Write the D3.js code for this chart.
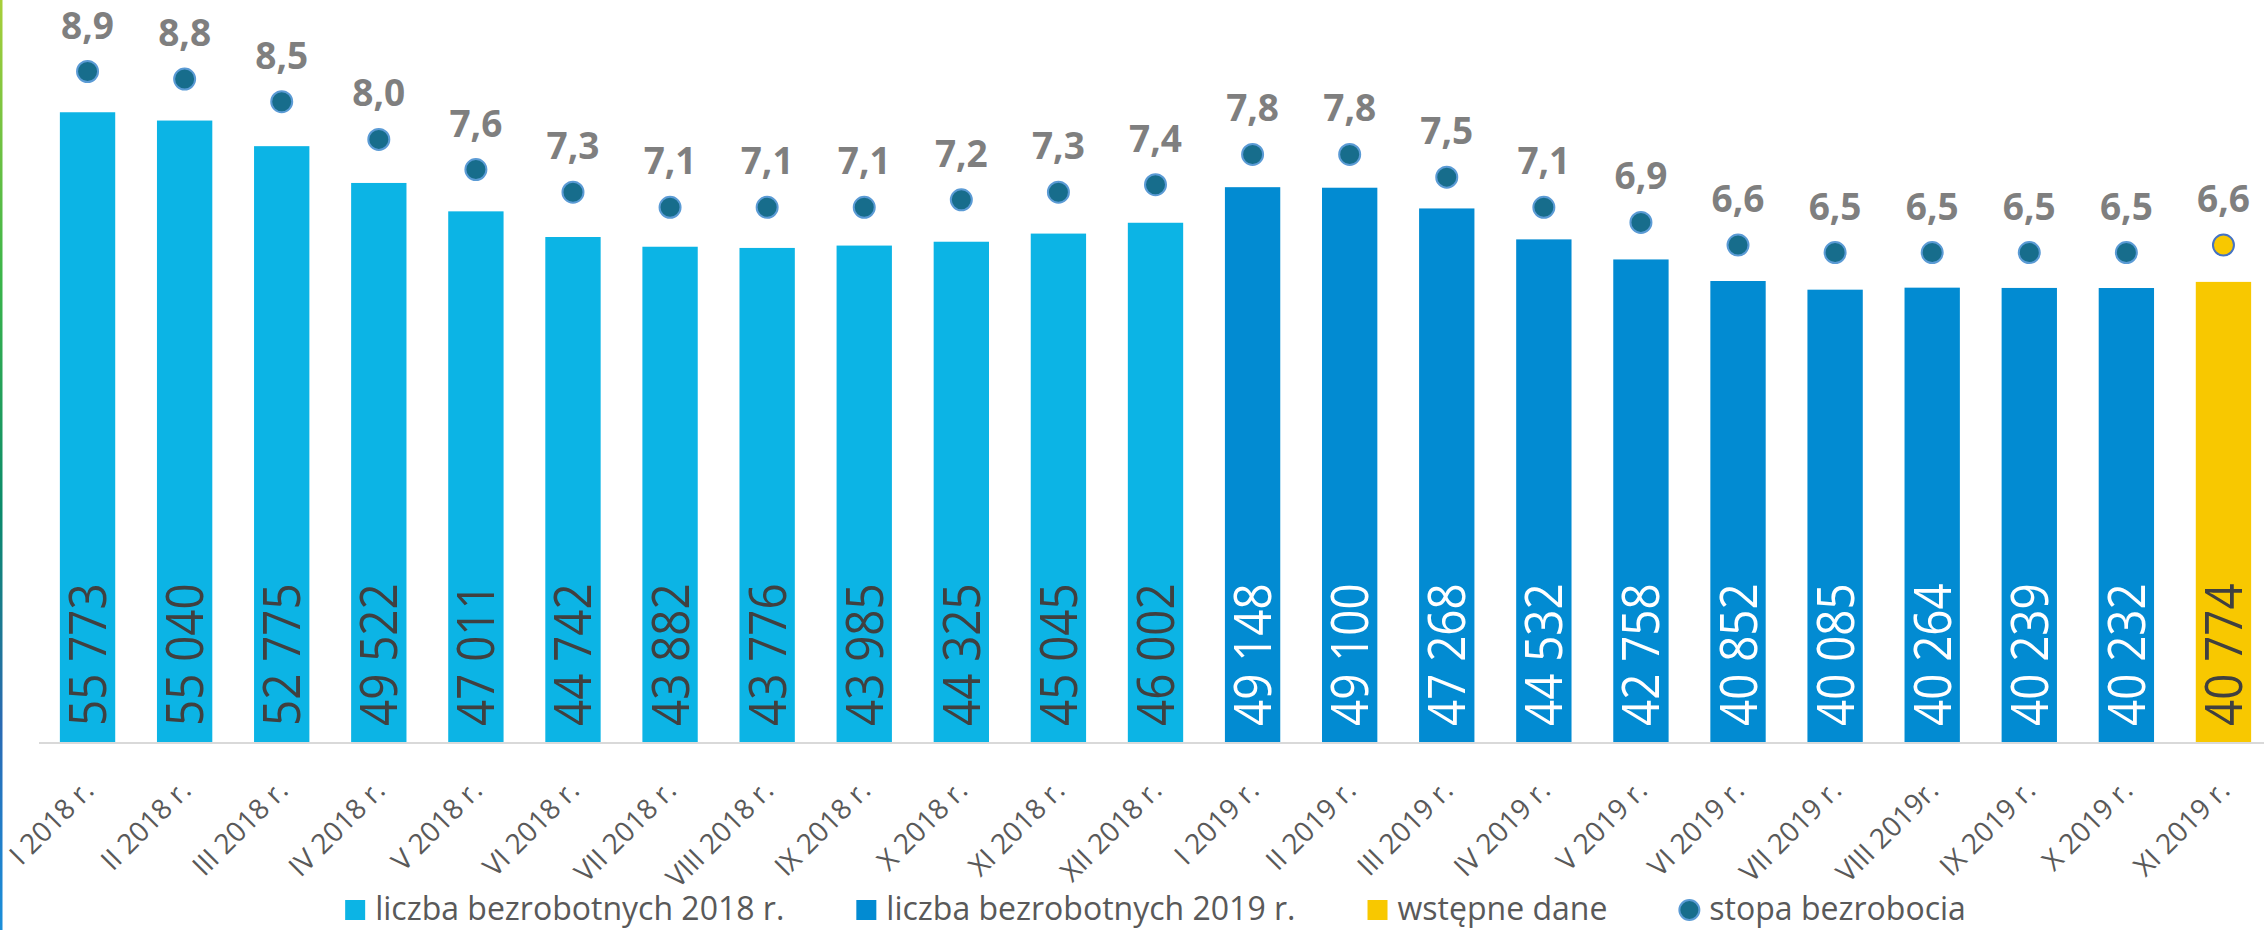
<!DOCTYPE html>
<html>
<head>
<meta charset="utf-8">
<script src="https://cdn.jsdelivr.net/npm/d3@7"></script>
<style>
  body { margin: 0; background: #fff; }
  svg { display: block; }
</style>
</head>
<body>
<div id="chart"></div>
<script>
// ---- data ----
var categories = ["I 2018 r.", "II 2018 r.", "III 2018 r.", "IV 2018 r.", "V 2018 r.", "VI 2018 r.",
  "VII 2018 r.", "VIII 2018 r.", "IX 2018 r.", "X 2018 r.", "XI 2018 r.", "XII 2018 r.",
  "I 2019 r.", "II 2019 r.", "III 2019 r.", "IV 2019 r.", "V 2019 r.", "VI 2019 r.",
  "VII 2019 r.", "VIII 2019r.", "IX 2019 r.", "X 2019 r.", "XI 2019 r."];
var unemployed = [55773, 55040, 52775, 49522, 47011, 44742, 43882, 43776, 43985, 44325, 45045, 46002,
  49148, 49100, 47268, 44532, 42758, 40852, 40085, 40264, 40239, 40232, 40774];
var rate = [8.9, 8.8, 8.5, 8.0, 7.6, 7.3, 7.1, 7.1, 7.1, 7.2, 7.3, 7.4,
  7.8, 7.8, 7.5, 7.1, 6.9, 6.6, 6.5, 6.5, 6.5, 6.5, 6.6];
var seriesOf = ["y2018", "y2018", "y2018", "y2018", "y2018", "y2018", "y2018", "y2018", "y2018", "y2018", "y2018", "y2018",
  "y2019", "y2019", "y2019", "y2019", "y2019", "y2019", "y2019", "y2019", "y2019", "y2019", "prelim"];
var legendKeys = ["y2018", "y2019", "prelim", "rate"];
var legendLabels = ["liczba bezrobotnych 2018 r.", "liczba bezrobotnych 2019 r.", "wstępne dane", "stopa bezrobocia"];

var attrs = {
  svgWidth: 2264,
  svgHeight: 930,
  plotLeft: 39,
  plotRight: 2272,
  baseline: 743,
  font: "'Open Sans', 'Noto Sans', sans-serif"
};

var colors = {
  y2018: "#0cb4e5",
  y2019: "#028bd2",
  prelim: "#f8c800",
  rate: "#176d8c",
  rateStroke: "#5b9bd5",
  prelimDotStroke: "#4472c4",
  darkText: "#404040",
  rateText: "#7f7f7f",
  axisText: "#595959",
  axis: "#d9d9d9"
};

var svg = d3.select("#chart").append("svg")
  .attr("width", attrs.svgWidth)
  .attr("height", attrs.svgHeight)
  .attr("font-family", attrs.font);

// left gradient edge
var grad = svg.append("defs").append("linearGradient")
  .attr("id", "edge").attr("x1", 0).attr("y1", 0).attr("x2", 0).attr("y2", 1);
[["0%", "#a8cf3a"], ["30%", "#3bb54a"], ["55%", "#0b8a6b"], ["78%", "#2a6ab3"], ["100%", "#1a8fda"]]
  .forEach(function (s) { grad.append("stop").attr("offset", s[0]).attr("stop-color", s[1]); });
svg.append("rect").attr("x", 0).attr("y", 0).attr("width", 2.5).attr("height", attrs.svgHeight)
  .attr("fill", "url(#edge)");

// scales
var x = d3.scaleBand()
  .domain(categories)
  .range([attrs.plotLeft, attrs.plotRight])
  .paddingInner(0.43)
  .paddingOuter(0.215);

var y = d3.scaleLinear()
  .domain([0, 60000])
  .range([attrs.baseline, attrs.baseline - 60000 * 0.011309]);

var yRate = d3.scaleLinear()
  .domain([0, 10])
  .range([attrs.baseline, attrs.baseline - 754.5]);

var fmtNum = function (v) { return d3.format(",")(v).replace(/,/g, " "); };
var fmtRate = function (v) { return d3.format(".1f")(v).replace(".", ","); };

var data = categories.map(function (c, i) {
  return { cat: c, value: unemployed[i], rate: rate[i], series: seriesOf[i] };
});

// bars
svg.append("g").selectAll("rect")
  .data(data)
  .enter().append("rect")
  .attr("x", function (d) { return x(d.cat); })
  .attr("y", function (d) { return y(d.value); })
  .attr("width", x.bandwidth())
  .attr("height", function (d) { return y(0) - y(d.value); })
  .attr("fill", function (d) { return colors[d.series]; });

// axis line
svg.append("line")
  .attr("x1", attrs.plotLeft).attr("x2", attrs.plotRight)
  .attr("y1", attrs.baseline).attr("y2", attrs.baseline)
  .attr("stroke", colors.axis).attr("stroke-width", 2);

// bar value labels (vertical)
svg.append("g").selectAll("text")
  .data(data)
  .enter().append("text")
  .attr("transform", function (d) {
    var cx = x(d.cat) + x.bandwidth() / 2;
    return "translate(" + (cx + 18.5) + "," + (attrs.baseline - 17) + ") rotate(-90) scale(0.88,1)";
  })
  .attr("font-size", 52)
  .attr("fill", function (d) { return d.series === "y2019" ? "#fff" : colors.darkText; })
  .text(function (d) { return fmtNum(d.value); });

// category labels
svg.append("g").selectAll("text")
  .data(data)
  .enter().append("text")
  .attr("transform", function (d) {
    var cx = x(d.cat) + x.bandwidth() / 2;
    return "translate(" + (cx + 8) + "," + (attrs.baseline + 49) + ") rotate(-45)";
  })
  .attr("text-anchor", "end")
  .attr("font-size", 28)
  .attr("fill", colors.axisText)
  .text(function (d) { return d.cat; });

// rate dots
svg.append("g").selectAll("circle")
  .data(data)
  .enter().append("circle")
  .attr("cx", function (d) { return x(d.cat) + x.bandwidth() / 2; })
  .attr("cy", function (d) { return yRate(d.rate); })
  .attr("r", 10.5)
  .attr("fill", function (d) { return d.series === "prelim" ? colors.prelim : colors.rate; })
  .attr("stroke", function (d) { return d.series === "prelim" ? colors.prelimDotStroke : colors.rateStroke; })
  .attr("stroke-width", 2);

// rate labels
svg.append("g").selectAll("text")
  .data(data)
  .enter().append("text")
  .attr("x", function (d) { return x(d.cat) + x.bandwidth() / 2; })
  .attr("y", function (d) { return yRate(d.rate) - 33; })
  .attr("text-anchor", "middle")
  .attr("font-size", 37)
  .attr("font-weight", "bold")
  .attr("fill", colors.rateText)
  .text(function (d) { return fmtRate(d.rate); });

// legend
var legend = svg.append("g");
var items = legend.selectAll("g")
  .data(legendKeys)
  .enter().append("g");

items.each(function (k, i) {
  var g = d3.select(this);
  if (k === "rate") {
    g.append("circle").attr("cx", 10).attr("cy", -10).attr("r", 10)
      .attr("fill", colors.rate).attr("stroke", colors.rateStroke).attr("stroke-width", 2);
  } else {
    g.append("rect").attr("x", 0).attr("y", -20).attr("width", 20).attr("height", 20)
      .attr("fill", colors[k]);
  }
  g.append("text").attr("x", 30).attr("y", 0)
    .attr("font-size", 32)
    .attr("fill", colors.axisText)
    .text(legendLabels[i]);
});

var offsets = [], total = 0;
items.each(function () {
  var w = 30 + d3.select(this).select("text").node().getComputedTextLength();
  offsets.push(total);
  total += w + 72;
});
total -= 72;
var legendStart = (attrs.plotLeft + attrs.plotRight) / 2 - total / 2;
items.attr("transform", function (d, i) {
  return "translate(" + (legendStart + offsets[i]) + "," + 920 + ")";
});
</script>
</body>
</html>
